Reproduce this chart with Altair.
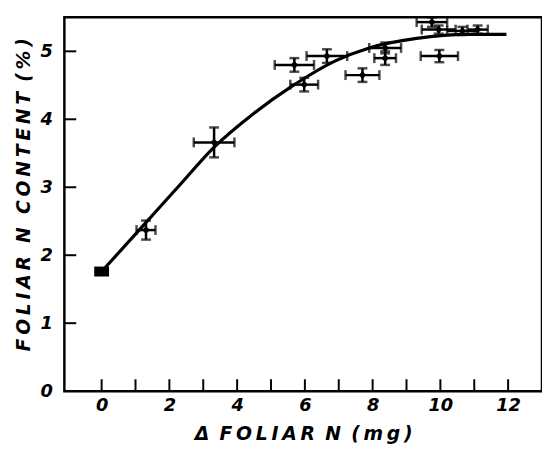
import altair as alt
import pandas as pd

# Data points (Δ foliar N in mg, foliar N content in %)
pt_x = [1.31, 3.32, 5.69, 5.98, 6.65, 7.70, 8.37, 8.37, 9.97, 9.75, 9.95, 10.65, 11.10]
pt_y = [2.37, 3.66, 4.80, 4.51, 4.93, 4.65, 5.05, 4.90, 4.93, 5.43, 5.32, 5.30, 5.32]
x_err = [0.28, 0.60, 0.58, 0.41, 0.60, 0.50, 0.47, 0.32, 0.55, 0.45, 0.50, 0.45, 0.30]
y_err = [0.14, 0.22, 0.10, 0.10, 0.10, 0.10, 0.08, 0.10, 0.09, 0.07, 0.06, 0.06, 0.06]

# Control (square) point
ctrl_x = [0.0]
ctrl_y = [1.76]

# Fitted curve
curve_x = [0.0, 1.2, 2.3, 3.3, 4.5, 5.6, 6.9, 7.9, 9.3, 10.8, 11.95]
curve_y = [1.76, 2.42, 3.03, 3.58, 4.09, 4.48, 4.86, 5.05, 5.19, 5.25, 5.25]

x_tick_vals = list(range(0, 13))
x_label_vals = [0, 2, 4, 6, 8, 10, 12]
y_tick_vals = [1, 2, 3, 4, 5]
y_label_vals = [0, 1, 2, 3, 4, 5]

x_title_words = ["Δ", "FOLIAR", "N", "(mg)"]
y_title_words = ["FOLIAR", "N", "CONTENT", "(%)"]


def spaced(words, gaps):
    # letter-spaced lettering, like the stencil text of the original
    out = "\u2009".join(words[0])
    for g, w in zip(gaps, words[1:]):
        out += g + "\u2009".join(w)
    return out


W, H = 483, 378
FONT = "DejaVu Sans"

pts = pd.DataFrame({"x": pt_x, "y": pt_y, "xerr": x_err, "yerr": y_err})
pts["xlo"] = pts.x - pts.xerr
pts["xhi"] = pts.x + pts.xerr
pts["ylo"] = pts.y - pts.yerr
pts["yhi"] = pts.y + pts.yerr
ctrl = pd.DataFrame({"x": ctrl_x, "y": ctrl_y})
curve = pd.DataFrame({"x": curve_x, "y": curve_y})
xt = pd.DataFrame({"t": x_tick_vals})
yt = pd.DataFrame({"t": y_tick_vals})

xs = alt.Scale(domain=[-1.1, 13], nice=False, zero=False)
ys = alt.Scale(domain=[0, 5.5], nice=False, zero=False)

X = alt.X("x:Q", scale=xs, title=spaced(x_title_words, ["\u2009 ", "\u2009 ", "\u2009 "]),
          axis=alt.Axis(values=x_label_vals, format="d", ticks=False, domain=False, grid=False,
                        labelFont=FONT, labelFontSize=18, labelFontStyle="italic",
                        labelFontWeight="bold", labelColor="black", labelPadding=6,
                        titleFont=FONT, titleFontSize=19, titleFontWeight="bold",
                        titleFontStyle="italic", titleColor="black", titlePadding=10))
Y = alt.Y("y:Q", scale=ys, title=spaced(y_title_words, ["\u2002\u2009", "\u2002\u2009", "\u2009 "]),
          axis=alt.Axis(values=y_label_vals, format="d", ticks=False, domain=False, grid=False,
                        labelFont=FONT, labelFontSize=18, labelFontStyle="italic",
                        labelFontWeight="bold", labelColor="black", labelPadding=12,
                        titleFont=FONT, titleFontSize=19, titleFontWeight="bold",
                        titleFontStyle="italic", titleColor="black", titlePadding=7,
                        titleY=179))

line = alt.Chart(curve).mark_line(color="black", strokeWidth=3.2, interpolate="monotone").encode(x=X, y=Y)

EB = 2.5
xbar = alt.Chart(pts).mark_rule(color="black", strokeWidth=EB).encode(
    x=alt.X("xlo:Q", scale=xs), x2="xhi:Q", y=alt.Y("y:Q", scale=ys))
ybar = alt.Chart(pts).mark_rule(color="black", strokeWidth=EB).encode(
    y=alt.Y("ylo:Q", scale=ys), y2="yhi:Q", x=alt.X("x:Q", scale=xs))
xcap_lo = alt.Chart(pts).mark_tick(color="black", orient="vertical", size=10, thickness=EB).encode(
    x=alt.X("xlo:Q", scale=xs), y=alt.Y("y:Q", scale=ys))
xcap_hi = alt.Chart(pts).mark_tick(color="black", orient="vertical", size=10, thickness=EB).encode(
    x=alt.X("xhi:Q", scale=xs), y=alt.Y("y:Q", scale=ys))
ycap_lo = alt.Chart(pts).mark_tick(color="black", orient="horizontal", size=10, thickness=EB).encode(
    x=alt.X("x:Q", scale=xs), y=alt.Y("ylo:Q", scale=ys))
ycap_hi = alt.Chart(pts).mark_tick(color="black", orient="horizontal", size=10, thickness=EB).encode(
    x=alt.X("x:Q", scale=xs), y=alt.Y("yhi:Q", scale=ys))
dots = alt.Chart(pts).mark_point(shape="diamond", filled=True, color="black", size=60, opacity=1).encode(
    x=alt.X("x:Q", scale=xs), y=alt.Y("y:Q", scale=ys))
square = alt.Chart(ctrl).mark_point(shape="M-1,-0.67H1V0.67H-1Z", filled=True, color="black",
                                    size=225, opacity=1).encode(
    x=alt.X("x:Q", scale=xs), y=alt.Y("y:Q", scale=ys))

xticks = alt.Chart(xt).mark_rule(color="black", strokeWidth=2).encode(
    x=alt.X("t:Q", scale=xs), y=alt.value(H), y2=alt.value(H - 12))
yticks = alt.Chart(yt).mark_rule(color="black", strokeWidth=2).encode(
    y=alt.Y("t:Q", scale=ys), x=alt.value(0), x2=alt.value(12))

chart = alt.layer(line, xbar, ybar, xcap_lo, xcap_hi, ycap_lo, ycap_hi, dots, square,
                  xticks, yticks).properties(
    width=W, height=H,
    autosize=alt.AutoSizeParams(type="none"),
    padding={"left": 57, "top": 7, "right": 0, "bottom": 52},
    background="white",
).configure_view(stroke="black", strokeWidth=2.5)

chart.save("out.html", embed_options={"renderer": "svg", "actions": False})
